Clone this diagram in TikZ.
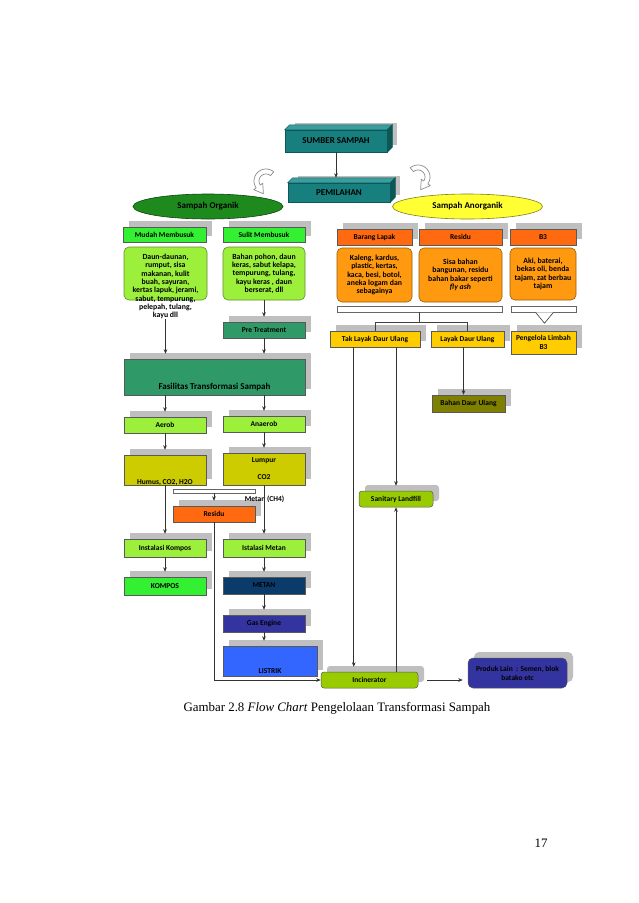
\documentclass[tikz,border=0pt]{standalone}
\usepackage{fontspec}
\setmainfont{Liberation Serif}
\newfontfamily\calibri{Carlito}
\usetikzlibrary{shapes.geometric, arrows.meta, calc, shadows}
\definecolor{tealFront}{HTML}{17807F}
\definecolor{tealTop}{HTML}{3A9E9E}
\definecolor{tealSide}{HTML}{0D5857}
\definecolor{hijauTua}{HTML}{1E8A1E}
\definecolor{kuningTerang}{HTML}{FFFF33}
\definecolor{hijauTerang}{HTML}{33F033}
\definecolor{hijauMuda}{HTML}{9CF03C}
\definecolor{hijauLaut}{HTML}{2F9A68}
\definecolor{zaitun}{HTML}{CCCC00}
\definecolor{zaitunTua}{HTML}{808000}
\definecolor{oranye}{HTML}{FF6A10}
\definecolor{oranyeMuda}{HTML}{FF9A10}
\definecolor{biruTua}{HTML}{0B3B6B}
\definecolor{ungu}{HTML}{3434A0}
\definecolor{biru}{HTML}{3366FF}
\definecolor{hijauKuning}{HTML}{99CC00}
\definecolor{emas}{HTML}{FFCC00}
\newcommand{\flabel}{\calibri\bfseries\fontsize{7.5}{9}\selectfont}
\newcommand{\fisi}{\calibri\bfseries\fontsize{7.8}{8.3}\selectfont}
\newcommand{\fbesar}{\calibri\bfseries\fontsize{9}{11}\selectfont}
\newcommand{\fcap}{\fontsize{12.9}{15}\selectfont}
\tikzset{
  kotak/.style={draw=black!65, line width=0.5pt, fill=#1, minimum height=16pt, inner sep=1pt,
                font=\flabel, text=black,
                drop shadow={shadow xshift=6pt, shadow yshift=6pt, fill=black!25, opacity=1}},
  isian/.style={draw=#1!60!black, line width=0.6pt, fill=#1, rounded corners=5pt, inner sep=1pt,
                font=\fisi, align=center},
  elips/.style={ellipse, draw=#1!50!black, line width=0.6pt, fill=#1, minimum width=150pt,
                minimum height=25pt, font=\fbesar},
  balok/.style={draw=tealSide, line width=0.5pt, fill=tealFront, minimum width=102pt, font=\fbesar,
                drop shadow={shadow xshift=10pt, shadow yshift=7pt, fill=black!25, opacity=1}},
  sisi/.style={draw=tealSide, line width=0.5pt},
  batang/.style={draw=black!60, line width=0.5pt, fill=white, inner sep=0pt},
  panah/.style={-{Stealth[length=4.5pt, width=3.6pt]}, line width=0.6pt, draw=black!80, shorten >=5pt},
  garis/.style={line width=0.6pt, draw=black!75},
  lengkung/.style={fill=white, draw=black!45, line width=0.7pt, line join=round},
}

\begin{document}
\begin{tikzpicture}[x=1pt, y=-1pt]
\fill[white] (0,0) rectangle (638,903);
\useasboundingbox (0,0) rectangle (638,903);

% sumber dan pemilahan
\node[balok, minimum height=22pt] (sumber) at (336,141) {SUMBER SAMPAH};
\filldraw[sisi, fill=tealTop] (sumber.north west) -- ++(5,-5) -- ($(sumber.north east)+(5,-5)$) -- (sumber.north east) -- cycle;
\filldraw[sisi, fill=tealSide] (sumber.north east) -- ++(5,-5) -- ($(sumber.south east)+(5,-5)$) -- (sumber.south east) -- cycle;
\node[balok, minimum height=19pt] (pemilahan) at (339,192.5) {PEMILAHAN};
\filldraw[sisi, fill=tealTop] (pemilahan.north west) -- ++(5,-5) -- ($(pemilahan.north east)+(5,-5)$) -- (pemilahan.north east) -- cycle;
\filldraw[sisi, fill=tealSide] (pemilahan.north east) -- ++(5,-5) -- ($(pemilahan.south east)+(5,-5)$) -- (pemilahan.south east) -- cycle;
\draw[panah] (sumber.south) -- (sumber.south |- pemilahan.north);

\node[elips=hijauTua] (organik) at (208,206.5) {Sampah Organik};
\node[elips=kuningTerang] (anorganik) at (467.5,206.5) {Sampah Anorganik};

% panah lengkung
\draw[lengkung] plot[domain=-50:-215, samples=25] ({266+12*cos(\x)}, {181+12*sin(\x)})
  -- ({266+15*cos(-215)}, {181+15*sin(-215)}) -- (263.4,193.8)
  -- ({266+4*cos(-215)}, {181+4*sin(-215)}) -- ({266+7*cos(-215)}, {181+7*sin(-215)})
  -- plot[domain=-215:-50, samples=25] ({266+7*cos(\x)}, {181+7*sin(\x)}) -- cycle;
\draw[lengkung] plot[domain=-50:-215, samples=25] ({418-12*cos(\x)}, {177+12*sin(\x)})
  -- ({418-15*cos(-215)}, {177+15*sin(-215)}) -- (420.6,189.8)
  -- ({418-4*cos(-215)}, {177+4*sin(-215)}) -- ({418-7*cos(-215)}, {177+7*sin(-215)})
  -- plot[domain=-215:-50, samples=25] ({418-7*cos(\x)}, {177+7*sin(\x)}) -- cycle;

% organik
\node[kotak=hijauTerang, minimum width=83pt, minimum height=15pt] (mudah) at (164.5,234.5) {Mudah Membusuk};
\node[kotak=hijauTerang, minimum width=82pt, minimum height=15pt] (sulit) at (264,234.5) {Sulit Membusuk};
\node[isian=hijauMuda, minimum width=83pt, minimum height=53pt] (isi1) at (165.5,273.5) {};
\node[font=\fisi, align=center, anchor=north, inner sep=0pt] (isi1teks) at (165.5,254)
  {Daun-daunan,\\rumput, sisa\\makanan, kulit\\buah, sayuran,\\kertas lapuk, jerami,\\sabut, tempurung,\\pelepah, tulang,\\kayu dll};
\node[isian=hijauMuda, minimum width=82pt, minimum height=53pt] (isi2) at (264,273.5)
  {Bahan pohon, daun\\keras, sabut kelapa,\\tempurung, tulang,\\kayu keras , daun\\berserat, dll};
\node[kotak=hijauLaut, minimum width=82pt] (pretreat) at (264,330) {Pre Treatment};
\node[kotak=hijauLaut, minimum width=181pt, minimum height=36pt,
      label={[font=\fbesar, anchor=south, yshift=1pt]south:Fasilitas Transformasi Sampah}] (fasilitas) at (214.5,377) {};
\node[kotak=hijauMuda, minimum width=82pt] (aerob) at (165,425) {Aerob};
\node[kotak=hijauMuda, minimum width=82pt] (anaerob) at (264,424) {Anaerob};
\node[kotak=zaitun, minimum width=82pt, minimum height=30pt,
      label={[font=\flabel, anchor=center, yshift=3pt]south:{Humus, CO2, H2O}}] (humus) at (165,470) {};
\node[kotak=zaitun, minimum width=82pt, minimum height=32pt, align=center] (lumpur) at (264,469) {Lumpur\\[8pt]CO2};
\node[batang, minimum width=82pt, minimum height=4pt] (bar) at (214,491) {};
\node[kotak=oranye, minimum width=82pt] (residu) at (214,514) {Residu};
\node[font=\flabel] (metanlbl) at (264.5,499) {Metan (CH4)};
\node[kotak=hijauMuda, minimum width=82pt, minimum height=18pt] (kinst) at (165,548) {Instalasi Kompos};
\node[kotak=hijauMuda, minimum width=82pt, minimum height=18pt] (minst) at (264,548) {Istalasi Metan};
\node[kotak=hijauTerang, minimum width=82pt, minimum height=18pt] (kompos) at (165,586) {KOMPOS};
\node[kotak=biruTua, minimum width=82pt, minimum height=17pt] (metan) at (264,585.5) {METAN};
\node[kotak=ungu, minimum width=82pt, minimum height=17pt] (gas) at (264,623.5) {Gas Engine};
\node[kotak=biru, minimum width=94pt, minimum height=30pt,
      label={[font=\flabel, anchor=south, yshift=-1pt]south:LISTRIK}] (listrik) at (270,661) {};

% anorganik
\node[kotak=oranye, minimum width=75pt] (lapak) at (374.5,237) {Barang Lapak};
\node[kotak=oranye, minimum width=83pt] (residuB) at (460.5,237) {Residu};
\node[kotak=oranye, minimum width=66pt] (btiga) at (543,237) {B3};
\node[isian=oranyeMuda, minimum width=75pt, minimum height=54pt] (isi3) at (374.5,275)
  {Kaleng, kardus,\\plastic, kertas,\\kaca, besi, botol,\\aneka logam dan\\sebagainya};
\node[isian=oranyeMuda, minimum width=83pt, minimum height=54pt] (isi4) at (460.5,275)
  {Sisa bahan\\bangunan, residu\\bahan bakar seperti\\\textit{fly ash}};
\node[isian=oranyeMuda, minimum width=66pt, minimum height=52pt] (isi5) at (543,274)
  {Aki, baterai,\\bekas oli, benda\\tajam, zat berbau\\tajam};
\node[batang, minimum width=165pt, minimum height=6pt] (barA) at (419.5,309) {};
\node[batang, minimum width=65pt, minimum height=6pt] (barB) at (543.5,309) {};
\node[kotak=emas, minimum width=90pt] (taklayak) at (375,339) {Tak Layak Daur Ulang};
\node[kotak=emas, minimum width=73pt] (layak) at (467.5,339) {Layak Daur Ulang};
\node[kotak=emas, minimum width=65pt, minimum height=23pt, align=center] (pengelola) at (543.5,342.5) {Pengelola Limbah\\B3};
\node[kotak=zaitunTua, minimum width=73pt, minimum height=17pt] (bahan) at (468.5,403.5) {Bahan Daur Ulang};
\node[kotak=hijauKuning, minimum width=74pt, rounded corners=3pt] (landfill) at (396,499) {Sanitary Landfill};
\node[kotak=hijauKuning, minimum width=97pt, rounded corners=3pt] (incin) at (369.5,680) {Incinerator};
\node[kotak=ungu, minimum width=99pt, minimum height=30pt, rounded corners=5pt, align=center] (produk) at (517.5,673)
  {Produk Lain \ : Semen, blok\\batako etc};

% alur organik
\draw[panah] (isi1teks.south) -- (isi1teks.south |- fasilitas.north);
\draw[panah] (isi2.south) -- (pretreat.north);
\draw[panah] (pretreat.south) -- (pretreat.south |- fasilitas.north);
\draw[panah] (aerob.north |- fasilitas.south) -- (aerob.north);
\draw[panah] (anaerob.north |- fasilitas.south) -- (anaerob.north);
\draw[panah] (aerob.south) -- (humus.north);
\draw[panah] (anaerob.south) -- (lumpur.north);
\draw[panah] (humus.south) -- (kinst.north);
\draw[panah] (lumpur.south) -- (minst.north);
\draw[panah] (bar.south) -- (residu.north);
\draw[panah] (kinst.south) -- (kompos.north);
\draw[panah] (minst.south) -- (metan.north);
\draw[panah] (metan.south) -- (gas.north);
\draw[panah] (gas.south) -- (gas.south |- listrik.north);
\draw[panah, shorten >=0pt] (residu.south) |- (incin.west);

% alur anorganik
\draw[garis] (barA.south) -- ++(0,10) coordinate (cabang);
\draw[garis] (taklayak.north) |- (cabang) -| (layak.north);
\filldraw[fill=white, draw=black!70, line width=0.7pt, line join=round]
  ($(barB.south)+(-8,0)$) -- ($(barB.south)+(1,11)$) -- ($(barB.south)+(10,0)$);
\coordinate (t1) at ([xshift=24pt]taklayak.south west);
\draw[panah] (t1) -- (t1 |- incin.north);
\draw[panah] (taklayak.south -| landfill.north) -- (landfill.north);
\draw[panah, shorten >=0pt] (incin.north -| landfill.south) -- (landfill.south);
\draw[panah, shorten >=0pt] ([xshift=-4pt]layak.south) -- ([xshift=-4pt]layak.south |- bahan.north);
\draw[panah, shorten <=9pt] (incin.east) -- (incin.east -| produk.west);

% keterangan
\node[font=\fcap, anchor=west] (judul) at (180,708) {Gambar 2.8 \textit{Flow Chart} Pengelolaan Transformasi Sampah};
\node[font=\fcap] (hal) at (541,843) {17};
\end{tikzpicture}
\end{document}
